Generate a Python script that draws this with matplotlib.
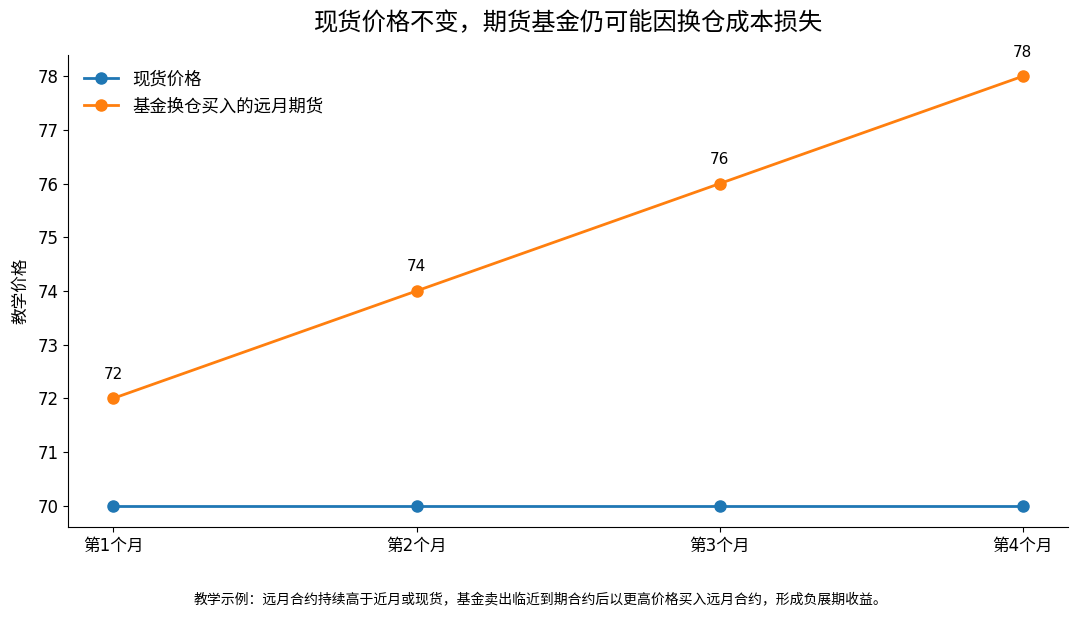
import matplotlib
matplotlib.use('Agg')
import matplotlib.pyplot as plt

plt.rcParams['font.family'] = ['DejaVu Sans', 'Noto Sans CJK SC']
plt.rcParams['axes.unicode_minus'] = False

# 数据
months = ['第1个月', '第2个月', '第3个月', '第4个月']
spot = [70, 70, 70, 70]
far_futures = [72, 74, 76, 78]

fig, ax = plt.subplots(figsize=(10.8, 6.23), dpi=100)
x = list(range(len(months)))
ax.plot(x, spot, marker='o', linewidth=2, markersize=8, color='#1f77b4', label='现货价格')
ax.plot(x, far_futures, marker='o', linewidth=2, markersize=8, color='#ff7f0e', label='基金换仓买入的远月期货')

for xi, v in zip(x, far_futures):
    ax.annotate(f'{v}', (xi, v), textcoords='offset points', xytext=(0, 14),
                ha='center', fontsize=11)

ax.set_xticks(x)
ax.set_xticklabels(months)
ax.tick_params(labelsize=12)
ax.set_ylabel('教学价格', fontsize=12, labelpad=6)
ax.set_title('现货价格不变，期货基金仍可能因换仓成本损失', fontsize=17.5, pad=18)
ax.spines['top'].set_visible(False)
ax.spines['right'].set_visible(False)
ax.legend(loc='upper left', frameon=False, fontsize=12.5)

fig.text(0.5, 0.03, '教学示例：远月合约持续高于近月或现货，基金卖出临近到期合约后以更高价格买入远月合约，形成负展期收益。',
         ha='center', fontsize=10)
fig.subplots_adjust(left=0.063, right=0.989, top=0.912, bottom=0.154)
fig.savefig('out.png', dpi=100)
